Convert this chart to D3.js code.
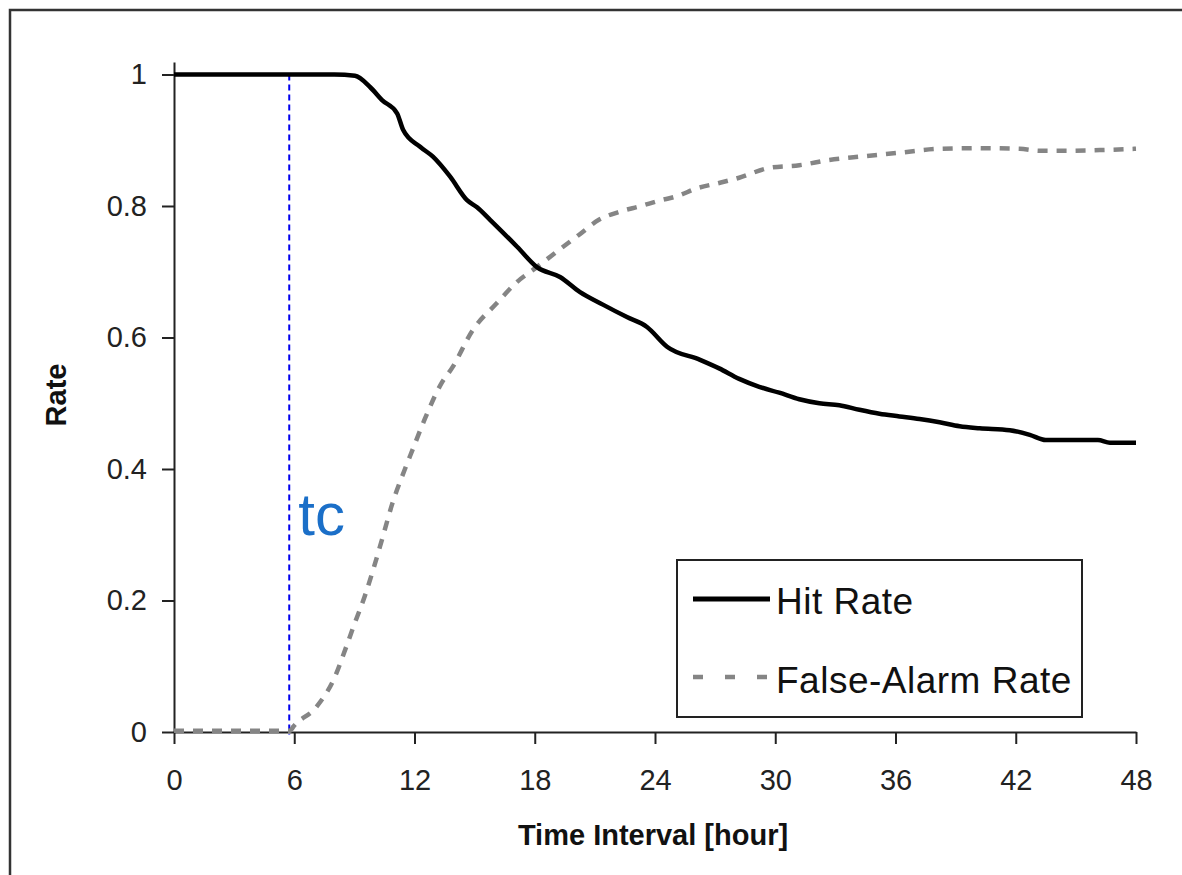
<!DOCTYPE html>
<html>
<head>
<meta charset="utf-8">
<title>Hit Rate / False-Alarm Rate</title>
<script src="https://cdn.jsdelivr.net/npm/d3@7"></script>
<style>
    body { margin: 0; background: #fff; }
    svg { display: block; }
    .tick text { font-family: "Liberation Sans Narrow", "Liberation Sans", Arial, sans-serif; font-size: 29px; fill: #222; }
    .axis path, .axis line { stroke: #222; stroke-width: 2; }
    .title { font-family: "Liberation Sans", Arial, sans-serif; font-weight: bold; font-size: 29px; fill: #111; }
</style>
</head>
<body>
<svg id="chart" width="1182" height="875"></svg>
<script>
// hours since event
var hitHours = [0, 8, 9.03, 9.78, 10.38, 11.13, 11.43, 12.28, 12.92, 13.77, 14.62, 15.12, 15.77, 17.12, 18.11,
    19.26, 20.26, 21.4, 22.6, 23.6, 24.6, 26.25, 27.2, 28.2, 29.2, 30.2, 31.2, 32.2, 33.2, 34.2, 35.2, 36.2,
    37.2, 38.2, 39.2, 40.2, 41.7, 42.7, 43.5, 45.0, 46.1, 46.7, 48];
var hitRate = [1, 1, 0.998, 0.981, 0.961, 0.941, 0.916, 0.890, 0.875, 0.845, 0.809, 0.798, 0.779, 0.738, 0.707,
    0.692, 0.669, 0.650, 0.631, 0.616, 0.586, 0.566, 0.553, 0.537, 0.525, 0.516, 0.506, 0.500, 0.497, 0.490, 0.484, 0.480,
    0.476, 0.471, 0.465, 0.462, 0.459, 0.452, 0.444, 0.444, 0.444, 0.440, 0.440];

var faHours = [0, 5.8, 5.95, 7.1, 8.0, 8.6, 8.95, 9.5, 9.9, 10.4, 10.9, 11.5, 11.9, 12.5, 13.3, 13.9, 14.9,
    16.1, 17.1, 18.1, 19.2, 20.2, 21.2, 22.2, 23.3, 24.2, 25.1, 26.1, 27.2, 28.2, 29.7, 31.2, 32.7, 34.2,
    36.2, 38.2, 40.2, 42.2, 43.2, 44.7, 46.2, 48];
var faRate = [0.002, 0.002, 0.008, 0.038, 0.082, 0.13, 0.16, 0.205, 0.243, 0.295, 0.348, 0.398, 0.429, 0.475, 0.528, 0.555, 0.611,
    0.652, 0.684, 0.707, 0.733, 0.756, 0.779, 0.791, 0.800, 0.808, 0.815, 0.827, 0.835, 0.843, 0.858, 0.862, 0.870, 0.875,
    0.881, 0.887, 0.888, 0.887, 0.884, 0.884, 0.885, 0.887];

var xTicks = [0, 6, 12, 18, 24, 30, 36, 42, 48];
var yTicks = [0, 0.2, 0.4, 0.6, 0.8, 1];
var tc = 5.75;
var legendLabels = ['Hit Rate', 'False-Alarm Rate'];

var svg = d3.select('#chart');
var margin = {top: 62, right: 46, bottom: 143, left: 174};
var width = svg.attr('width') - margin.left - margin.right;
var height = svg.attr('height') - margin.top - margin.bottom;

// outer frame (top + left edges visible)
svg.append('path')
    .attr('d', 'M10,875V10H1182')
    .attr('fill', 'none')
    .attr('stroke', '#333')
    .attr('stroke-width', 2.5);

var g = svg.append('g')
    .attr('transform', 'translate(' + margin.left + ',' + margin.top + ')');

var x = d3.scaleLinear().domain([0, 48]).range([0, width]);
var y = d3.scaleLinear().domain([0, 1.019]).range([height, 0]);

// axes
g.append('g')
    .attr('class', 'axis')
    .attr('transform', 'translate(0,' + height + ')')
    .call(d3.axisBottom(x).tickValues(xTicks).tickSize(12).tickSizeOuter(0).tickPadding(25))
    .call(a => a.selectAll('.tick text').attr('dy', '0.71em'));

g.append('g')
    .attr('class', 'axis')
    .call(d3.axisLeft(y).tickValues(yTicks).tickFormat(d => String(d)).tickSize(12).tickSizeOuter(0).tickPadding(15));

// axis titles
g.append('text')
    .attr('class', 'title')
    .attr('text-anchor', 'middle')
    .attr('x', 653 - margin.left)
    .attr('y', 845 - margin.top)
    .text('Time Interval [hour]');

g.append('text')
    .attr('class', 'title')
    .attr('text-anchor', 'middle')
    .attr('transform', 'translate(' + (66 - margin.left) + ',' + (395 - margin.top) + ') rotate(-90)')
    .text('Rate');

// tc marker
g.append('line')
    .attr('x1', x(tc)).attr('x2', x(tc))
    .attr('y1', y(1)).attr('y2', y(0) + 3)
    .attr('stroke', '#0000ee')
    .attr('stroke-width', 2)
    .attr('stroke-dasharray', '6,4');

g.append('text')
    .attr('x', x(tc) + 9)
    .attr('y', 535 - margin.top)
    .attr('font-family', 'Liberation Sans, Arial, sans-serif')
    .attr('font-size', 60)
    .attr('fill', '#1b6fc8')
    .text('tc');

// series
var hitData = hitHours.map((h, i) => [h, hitRate[i]]);
var faData = faHours.map((h, i) => [h, faRate[i]]);

var line = d3.line()
    .x(d => x(d[0]))
    .y(d => y(d[1]))
    .curve(d3.curveMonotoneX);

g.append('path')
    .datum(faData)
    .attr('fill', 'none')
    .attr('stroke', '#858585')
    .attr('stroke-width', 4.5)
    .attr('stroke-dasharray', '10,9')
    .attr('d', line);

g.append('path')
    .datum(hitData)
    .attr('fill', 'none')
    .attr('stroke', '#000')
    .attr('stroke-width', 4.5)
    .attr('stroke-linejoin', 'round')
    .attr('d', line);

// legend
var legend = svg.append('g').attr('transform', 'translate(677,560)');
legend.append('rect')
    .attr('width', 405).attr('height', 157)
    .attr('fill', '#fff')
    .attr('stroke', '#222')
    .attr('stroke-width', 2);

legend.append('line')
    .attr('x1', 16).attr('x2', 93).attr('y1', 39).attr('y2', 39)
    .attr('stroke', '#000').attr('stroke-width', 5);
legend.append('line')
    .attr('x1', 16).attr('x2', 93).attr('y1', 117).attr('y2', 117)
    .attr('stroke', '#858585').attr('stroke-width', 4.5)
    .attr('stroke-dasharray', '10,22');

legend.selectAll('text.lbl')
    .data(legendLabels)
    .enter().append('text')
    .attr('class', 'lbl')
    .attr('x', 99)
    .attr('y', (d, i) => 54 + i * 79)
    .attr('font-family', 'Liberation Sans, Arial, sans-serif')
    .attr('font-size', 37)
    .attr('letter-spacing', 0.5)
    .attr('fill', '#111')
    .text(d => d);
</script>
</body>
</html>
